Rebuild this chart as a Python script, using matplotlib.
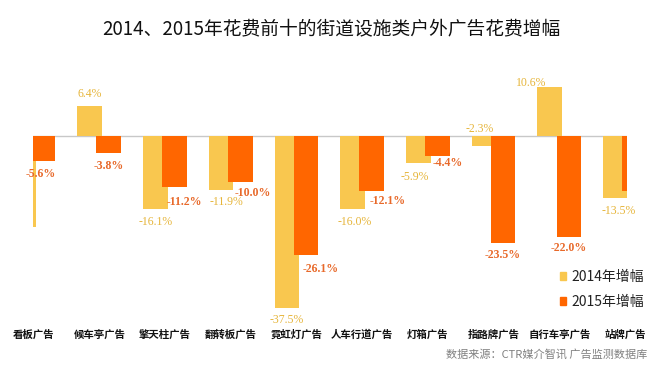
import matplotlib
matplotlib.use("Agg")
import matplotlib.pyplot as plt
from matplotlib.patches import Patch
import numpy as np

plt.rcParams['font.family'] = ['Noto Sans CJK SC', 'DejaVu Sans']

# data
categories = ['看板广告', '候车亭广告', '擎天柱广告', '翻转板广告', '霓虹灯广告',
              '人车行道广告', '灯箱广告', '指路牌广告', '自行车亭广告', '站牌广告']
growth_2014 = [-19.9, 6.4, -16.1, -11.9, -37.5, -16.0, -5.9, -2.3, 10.6, -13.5]
growth_2015 = [-5.6, -3.8, -11.2, -10.0, -26.1, -12.1, -4.4, -23.5, -22.0, -12.0]
series_names = ['2014年增幅', '2015年增幅']

# label nudges in pixels (dx, dy) so labels do not collide
nudge_2014 = [(0, -12), (0, 12), (0, -13), (5, -12), (0, -12),
              (2, -13), (-4, -14), (-4, 17), (-19, 4), (3, -13)]
nudge_2015 = [(-2, -13), (0, -13), (10, -15), (13, -11), (15, -14),
              (16, -10), (10, -7), (0, -12), (0, -11), (0, -12)]

c2014 = '#F9C74F'
c2015 = '#FF6600'
lab2014 = '#E6B53A'
lab2015 = '#E8692A'

fig = plt.figure(figsize=(6.6, 3.73), dpi=100)
ax = fig.add_axes([33 / 660, 1 - 320 / 373, 594 / 660, 260 / 373])

x = np.arange(len(categories))
w = 0.375
off = 0.145
ax.bar(x - off, growth_2014, w, color=c2014, zorder=2)
ax.bar(x + off, growth_2015, w, color=c2015, zorder=3)
ax.axhline(0, color='#C8C8C8', lw=1, zorder=1)

xlim = (-0.008, 9.03)
ax.set_xlim(*xlim)
ax.set_ylim(-40.2, 16.5)

# value labels, only for bars whose centre is inside the plot
for vals, nudges, col, wt, sign in [(growth_2014, nudge_2014, lab2014, 'normal', -1),
                                     (growth_2015, nudge_2015, lab2015, 'bold', 1)]:
    for i, v in enumerate(vals):
        xc = i + sign * off
        if not (xlim[0] <= xc <= xlim[1]):
            continue
        dx, dy = nudges[i]
        ax.annotate(f'{v:.1f}%', (xc, v), xytext=(dx, dy), textcoords='offset pixels',
                    ha='center', va='center', color=col, fontsize=8.5,
                    fontweight=wt, family=['Liberation Serif', 'DejaVu Serif'],
                    zorder=5)

ax.set_xticks(x)
ax.set_xticklabels(categories, fontsize=7.5, fontweight='bold', color='#111111')
ax.tick_params(axis='x', length=0, pad=7)
ax.set_yticks([])
for s in ax.spines.values():
    s.set_visible(False)

handles = [Patch(color=c2014), Patch(color=c2015)]
fig.legend(handles, series_names, loc='upper left',
           bbox_to_anchor=(553 / 660, 1 - 263 / 373), frameon=False,
           handlelength=0.45, handleheight=0.45, handletextpad=0.35,
           labelspacing=0.8, fontsize=10, borderpad=0, labelcolor='#222222')

fig.text(331 / 660, 1 - 29 / 373, '2014、2015年花费前十的街道设施类户外广告花费增幅',
         ha='center', va='center', fontsize=13.5, fontweight='medium', color='#111111')
fig.text(647 / 660, 1 - 354 / 373, '数据来源：CTR媒介智讯 广告监测数据库',
         ha='right', va='center', fontsize=8, color='#808080')

fig.savefig('out.png', dpi=100, facecolor='white')
